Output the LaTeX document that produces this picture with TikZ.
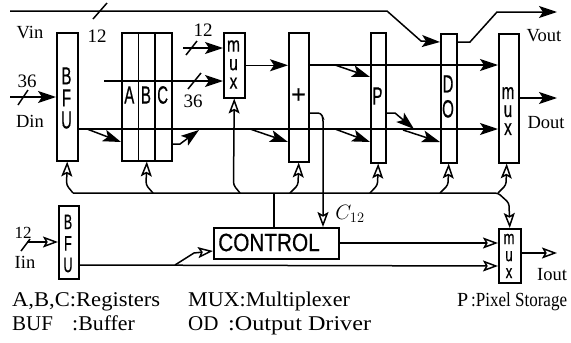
\documentclass[tikz,border=0pt]{standalone}
\usepackage{fontspec}
\setmainfont{Liberation Serif}
\newfontfamily\bxf[FakeBold=0.6]{Liberation Sans}
\usetikzlibrary{arrows.meta,calc}
\newcommand{\nb}[2][0.6]{\scalebox{#1}[1]{#2}}
\newcommand{\sq}[3]{\scalebox{#1}[#2]{#3}}
\begin{document}
\begin{tikzpicture}[x=1pt,y=-1pt,
  ln/.style={line width=1.5pt},
  box/.style={draw,line width=1.5pt,rectangle,inner sep=0pt,anchor=north west},
  fa/.style={ln,-{Stealth[length=18pt,width=12pt,inset=4pt]}},
  oa/.style={ln,-{Stealth[open,length=15pt,width=11pt,inset=3pt]}},
  tap/.style={oa,rounded corners=3pt},
  lbl/.style={font=\fontsize{18.5}{20}\selectfont,inner sep=0pt},
  num/.style={font=\fontsize{19}{21}\selectfont,inner sep=0pt},
  leg/.style={font=\fontsize{21}{23}\selectfont,inner sep=0pt,anchor=base west},
  bl/.style={font=\bxf\fontsize{25}{25}\selectfont,inner sep=0pt,align=center},
]
\useasboundingbox (0,0) rectangle (571,343);
% boxes
\node[box,minimum width=21pt,minimum height=128pt] (bfu) at (56,32) {};
\node[box,minimum width=16.7pt,minimum height=128pt] (ra) at (121,32) {};
\node[box,minimum width=16.7pt,minimum height=128pt] (rb) at (137.7,32) {};
\node[box,minimum width=16.7pt,minimum height=128pt] (rc) at (154.3,32) {};
\node[box,minimum width=21pt,minimum height=65pt] (m1) at (223,32) {};
\node[box,minimum width=20pt,minimum height=129pt] (add) at (288,32) {};
\node[box,minimum width=15pt,minimum height=130pt] (ps) at (370,32) {};
\node[box,minimum width=16pt,minimum height=129pt] (od) at (440,33) {};
\node[box,minimum width=20pt,minimum height=129pt] (mo) at (498,33) {};
\node[box,minimum width=20pt,minimum height=73pt] (bfu2) at (58,205) {};
\node[box,minimum width=125pt,minimum height=31pt] (ctl) at (213,227) {};
\node[box,minimum width=22pt,minimum height=54pt] (mi) at (498,228) {};
% box letters
\node[bl,font=\bxf\fontsize{19}{22}\selectfont] (tbfu1) at (66.5,98) {\sq{0.78}{1.3}{B}\\\sq{0.78}{1.3}{F}\\\sq{0.78}{1.3}{U}};
\node[bl] (ta) at (129.3,95) {\nb{A}};
\node[bl] (tb) at (146,95) {\nb{B}};
\node[bl] (tc) at (162.7,95) {\nb{C}};
\node[bl,font=\bxf\fontsize{16}{18.5}\selectfont] (tm1) at (233.5,64.5) {\sq{0.98}{1.31}{m}\\\sq{0.98}{1.31}{u}\\\sq{0.98}{1.31}{x}};
\node[bl] (tplus) at (298.5,95.5) {+};
\node[bl] (tp) at (377.5,96) {\nb{P}};
\node[bl,font=\bxf\fontsize{25}{25}\selectfont] (tdo) at (448,96.5) {\nb{D}\\\nb{O}};
\node[bl,font=\bxf\fontsize{17}{18}\selectfont] (tmo) at (508,111) {\sq{0.9}{1.3}{m}\\\sq{0.9}{1.3}{u}\\\sq{0.9}{1.3}{x}};
\node[bl,font=\bxf\fontsize{16}{21.5}\selectfont] (tbfu2) at (68,243.5) {\sq{0.79}{1.31}{B}\\\sq{0.79}{1.31}{F}\\\sq{0.79}{1.31}{U}};
\node[bl] (tctl) at (269,242.5) {\nb[0.83]{CONTROL}};
\node[bl,font=\bxf\fontsize{15}{17}\selectfont] (tmi) at (509,256) {\sq{0.89}{1.27}{m}\\\sq{0.89}{1.27}{u}\\\sq{0.89}{1.27}{x}};
% V line
\draw[fa] (10,11) -- (387,11) -- (421,41) -- ($(od.north west)+(0,9)$);
\draw[ln] (93,19) -- (107,3);
\node[num] (n12a) at (97,36) {12};
\node[lbl] (vin) at (30,33) {Vin};
\draw[fa] ($(od.north east)+(0,9)$) -- (470,42) -- (497,12) -- (557,12);
\node[lbl] (vout) at (544,36) {Vout};
% Din
\draw[fa] (10,97) -- ($(bfu.north west)+(0,65)$);
\draw[ln] (18,105) -- (28,90);
\node[num] (n36a) at (27,81) {36};
\node[lbl] (din) at (30,121) {Din};
% mux1 inputs
\draw[fa] (104,81) -- ($(m1.north west)+(0,49)$);
\draw[ln] (188,89) -- (201,73);
\node[num] (n36b) at (193,101) {36};
\draw[fa] (183,48) -- ($(m1.north west)+(0,16)$);
\draw[ln] (186,55) -- (197,41);
\node[num] (n12b) at (203,30) {12};
\draw[fa] (m1.east) -- (m1.east -| add.west);
% data bus 129
\draw[fa] ($(bfu.north east)+(0,97)$) -- ($(mo.north west)+(0,96)$);
\draw[fa] (87,129) -- ($(ra.north west)+(0,110)$);
\draw[fa] ($(rc.north east)+(0,112)$) -- (180,144) -- (199,130);
\draw[fa] (250,129) -- ($(add.north west)+(0,110)$);
\draw[fa] (335,129) -- ($(ps.north west)+(0,110)$);
\draw[fa] ($(ps.north east)+(0,81)$) -- (395,113) -- (414,129);
\draw[fa] (403,130) -- ($(od.north west)+(0,109)$);
% line 65
\draw[fa] ($(add.north east)+(0,33)$) -- ($(mo.north west)+(0,32)$);
\draw[fa] (335,65) -- ($(ps.north west)+(0,45)$);
\draw[fa] ($(mo.north east)+(0,65)$) -- (557,98);
\node[lbl] (dout) at (546,123) {Dout};
% C12
\draw[tap] ($(add.north east)+(0,81)$) -- (321,113) -- (323,118) -- ($(ctl.north west)+(110,0)$);
\node[inner sep=0pt,font=\fontsize{20}{22}\selectfont] (c12) at (350,214) {$C_{12}$};
% control bus
\draw[tap] (73,193) -- (498,193) -- (509,203) -- (mi.north);
\draw[tap] (73,193) -- (66.5,185) -- (bfu.south);
\draw[tap] (153,193) -- (146,185) -- (rb.south);
\draw[tap] (240,193) -- (233.5,185) -- (m1.south);
\draw[tap] (290,193) -- (298,185) -- (add.south);
\draw[tap] (370,193) -- (377.5,185) -- (ps.south);
\draw[tap] (440,193) -- (448,185) -- (od.south);
\draw[tap] (498,193) -- (506,185) -- ($(mo.south)+(-2,0)$);
\draw[ln] (274,193) -- ($(ctl.north west)+(61,0)$);
% control / image path
\draw[oa] ($(ctl.north east)+(0,16)$) -- ($(mi.north west)+(0,15)$);
\draw[oa] ($(bfu2.north east)+(0,60)$) -- ($(mi.north west)+(0,38)$);
\draw[oa] (175,265) -- (194,253) -- ($(ctl.north west)+(0,24)$);
\draw[oa] (27,242) -- ($(bfu2.north west)+(0,37)$);
\draw[ln] (21,251) -- (30,239);
\node[num,font=\fontsize{17}{19}\selectfont] (n12c) at (23,233) {12};
\node[lbl] (iin) at (25,262) {Iin};
\draw[oa] ($(mi.north east)+(0,25)$) -- (557,253);
\node[lbl] (iout) at (552,275) {Iout};
% legend
\node[leg] (l1) at (12,306) {\scalebox{1.075}[1]{A,B,C:Registers}};
\node[leg] (l2) at (12,330) {BUF};
\node[leg] (l2b) at (72,330) {\scalebox{1.04}[1]{:Buffer}};
\node[leg] (l3) at (188,306) {\scalebox{1.05}[1]{MUX:Multiplexer}};
\node[leg] (l4) at (188,330) {OD};
\node[leg] (l4b) at (228,330) {\scalebox{1.15}[1]{:Output Driver}};
\node[leg,font=\fontsize{20}{22}\selectfont] (l5) at (457,306) {P};
\node[leg,font=\fontsize{20}{22}\selectfont] (l5b) at (471,306) {\scalebox{0.85}[1]{:Pixel Storage}};
\end{tikzpicture}
\end{document}
